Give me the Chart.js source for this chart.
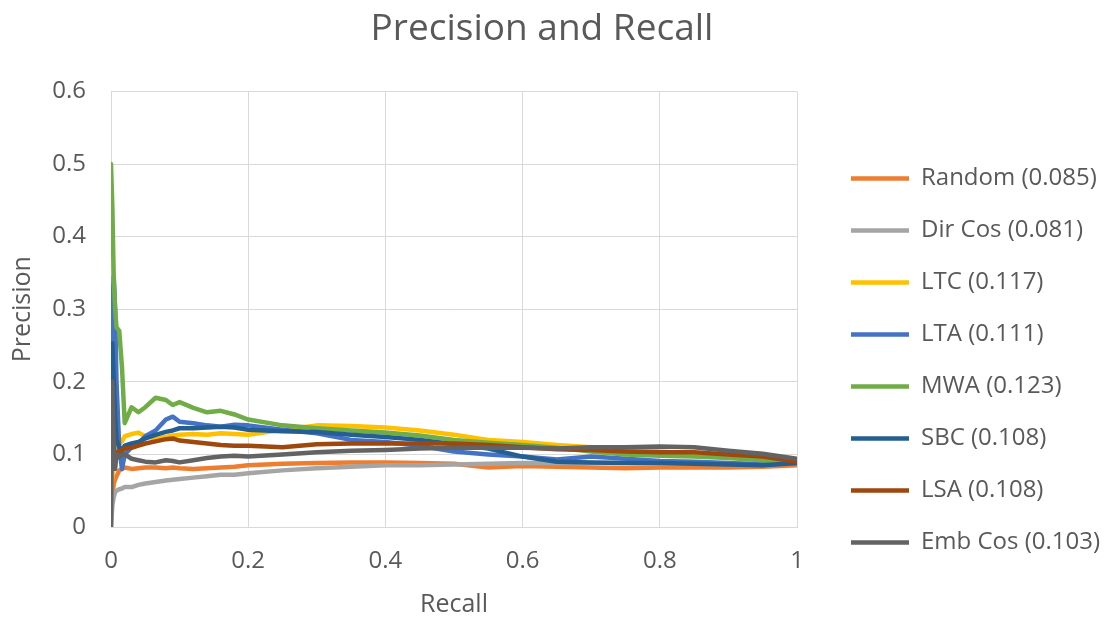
<!DOCTYPE html>
<html>
<head>
<meta charset="utf-8">
<title>Precision and Recall</title>
<script src="https://cdn.jsdelivr.net/npm/chart.js@4.4.1/dist/chart.umd.min.js"></script>
<style>
  html, body { margin: 0; padding: 0; background: #fff; font-family: "Open Sans", sans-serif; }
  #wrap { width: 1105px; height: 617px; }
</style>
</head>
<body>
<div id="wrap"><canvas id="prChart" width="1105" height="617"></canvas></div>
<script>
// recall points shared by every curve (denser near 0 where the spikes are)
const recall = [0, 0.002, 0.004, 0.006, 0.008, 0.012, 0.016, 0.02, 0.03, 0.04,
  0.05, 0.065, 0.08, 0.09, 0.1, 0.12, 0.14, 0.16, 0.18, 0.2,
  0.25, 0.3, 0.35, 0.4, 0.45, 0.5, 0.55, 0.6, 0.65, 0.7,
  0.75, 0.8, 0.85, 0.9, 0.95, 1.0];

// precision
const random = [0.05, 0.04, 0.06, 0.065, 0.07, 0.078, 0.08, 0.082, 0.08, 0.081,
  0.082, 0.082, 0.081, 0.082, 0.081, 0.08, 0.081, 0.082, 0.083, 0.085,
  0.087, 0.088, 0.089, 0.089, 0.088, 0.087, 0.082, 0.084, 0.083, 0.082,
  0.081, 0.082, 0.082, 0.082, 0.083, 0.085];
const dirCos = [0, 0.03, 0.041, 0.048, 0.05, 0.052, 0.053, 0.055, 0.055, 0.058,
  0.06, 0.062, 0.064, 0.065, 0.066, 0.068, 0.07, 0.072, 0.072, 0.074,
  0.078, 0.081, 0.083, 0.085, 0.085, 0.086, 0.087, 0.088, 0.088, 0.088,
  0.088, 0.088, 0.087, 0.087, 0.087, 0.087];
const ltc = [0.05, 0.07, 0.1, 0.09, 0.11, 0.115, 0.118, 0.125, 0.128, 0.13,
  0.125, 0.122, 0.124, 0.126, 0.127, 0.128, 0.127, 0.129, 0.128, 0.127,
  0.134, 0.14, 0.139, 0.137, 0.133, 0.127, 0.12, 0.117, 0.113, 0.11,
  0.107, 0.104, 0.102, 0.097, 0.093, 0.088];
const lta = [0.25, 0.3, 0.345, 0.3, 0.2, 0.11, 0.08, 0.1, 0.11, 0.115,
  0.125, 0.133, 0.148, 0.152, 0.145, 0.143, 0.14, 0.138, 0.141, 0.14,
  0.134, 0.129, 0.12, 0.117, 0.112, 0.104, 0.1, 0.097, 0.093, 0.097,
  0.094, 0.091, 0.09, 0.088, 0.086, 0.088];
const mwa = [0.5, 0.44, 0.34, 0.3, 0.275, 0.27, 0.22, 0.143, 0.165, 0.158,
  0.165, 0.178, 0.175, 0.168, 0.172, 0.164, 0.158, 0.16, 0.155, 0.148,
  0.14, 0.136, 0.133, 0.13, 0.126, 0.12, 0.116, 0.113, 0.109, 0.104,
  0.1, 0.098, 0.097, 0.095, 0.092, 0.088];
const sbc = [0.2, 0.253, 0.2, 0.15, 0.12, 0.11, 0.105, 0.112, 0.115, 0.117,
  0.122, 0.127, 0.131, 0.133, 0.136, 0.136, 0.137, 0.138, 0.137, 0.134,
  0.132, 0.131, 0.127, 0.124, 0.12, 0.114, 0.108, 0.097, 0.09, 0.089,
  0.088, 0.088, 0.087, 0.086, 0.085, 0.088];
const lsa = [0.09, 0.1, 0.095, 0.1, 0.103, 0.104, 0.106, 0.108, 0.109, 0.112,
  0.115, 0.118, 0.121, 0.122, 0.119, 0.117, 0.115, 0.113, 0.112, 0.112,
  0.11, 0.114, 0.115, 0.115, 0.115, 0.115, 0.113, 0.11, 0.107, 0.106,
  0.104, 0.103, 0.103, 0.1, 0.097, 0.09];
const embCos = [0, 0.2, 0.12, 0.08, 0.1, 0.096, 0.1, 0.1, 0.094, 0.092,
  0.09, 0.089, 0.092, 0.091, 0.089, 0.092, 0.095, 0.097, 0.098, 0.097,
  0.1, 0.103, 0.105, 0.106, 0.108, 0.109, 0.109, 0.109, 0.108, 0.11,
  0.11, 0.111, 0.11, 0.105, 0.101, 0.094];

const seriesNames = ['Random (0.085)', 'Dir Cos (0.081)', 'LTC (0.117)', 'LTA (0.111)',
  'MWA (0.123)', 'SBC (0.108)', 'LSA (0.108)', 'Emb Cos (0.103)'];
const seriesData = [random, dirCos, ltc, lta, mwa, sbc, lsa, embCos];
const seriesColors = ['#ED7D31', '#A5A5A5', '#FFC000', '#4472C4',
  '#70AD47', '#255E91', '#9E480E', '#636363'];

const textColor = '#595959';
const gridColor = '#D9D9D9';
const fontFamily = '"Open Sans", "Noto Sans", sans-serif';

const datasets = seriesData.map((vals, i) => ({
  label: seriesNames[i],
  data: vals.map((v, j) => ({ x: recall[j], y: v })),
  borderColor: seriesColors[i],
  backgroundColor: seriesColors[i],
  borderWidth: 4.5,
  borderCapStyle: 'round',
  borderJoinStyle: 'round',
  pointRadius: 0,
  tension: 0,
  fill: false,
  order: seriesData.length - i   // later series painted on top, like Excel
}));

// put the legend block where the reference has it (right of the plot, a bit low)
const legendNudge = {
  id: 'legendNudge',
  afterLayout(chart) {
    const lg = chart.legend;
    if (!lg) return;
    const w = lg.width;
    lg.left = chart.chartArea.right + 26;
    lg.right = lg.left + w;
    lg.top += 52;
    lg.bottom += 52;
  }
};

function drawChart() {
  const ctx = document.getElementById('prChart').getContext('2d');
  new Chart(ctx, {
    type: 'line',
    data: { datasets: datasets },
    plugins: [legendNudge],
    options: {
      responsive: false,
      animation: false,
      layout: { padding: { left: 0, right: 21, top: 0, bottom: 0 } },
      plugins: {
        title: {
          display: true,
          text: 'Precision and Recall',
          color: textColor,
          font: { family: fontFamily, size: 37, weight: 'normal' },
          padding: { top: 7, bottom: 40 }
        },
        legend: {
          position: 'right',
          maxWidth: 287,
          labels: {
            usePointStyle: true,
            pointStyle: 'line',
            pointStyleWidth: 58,
            padding: 28,
            color: textColor,
            font: { family: fontFamily, size: 24 },
            sort: (a, b) => a.datasetIndex - b.datasetIndex
          }
        },
        tooltip: { enabled: false }
      },
      scales: {
        x: {
          type: 'linear',
          min: 0,
          max: 1,
          afterFit: (scale) => { scale.height = 90; },
          ticks: {
            stepSize: 0.2,
            padding: 20,
            color: textColor,
            font: { family: fontFamily, size: 24 },
            callback: (v) => String(Number(v.toFixed(1)))
          },
          grid: { color: gridColor, lineWidth: 1, drawTicks: false },
          border: { color: gridColor },
          title: {
            display: true,
            text: 'Recall',
            color: textColor,
            font: { family: fontFamily, size: 25, lineHeight: 1 },
            padding: { top: 11, bottom: 0 }
          }
        },
        y: {
          min: 0,
          max: 0.6,
          afterFit: (scale) => { scale.width = 111; },
          ticks: {
            stepSize: 0.1,
            padding: 25,
            color: textColor,
            font: { family: fontFamily, size: 24 },
            callback: (v) => String(Number(v.toFixed(1)))
          },
          grid: { color: gridColor, lineWidth: 1, drawTicks: false },
          border: { color: gridColor },
          title: {
            display: true,
            text: 'Precision',
            color: textColor,
            font: { family: fontFamily, size: 25 },
            padding: { top: 8, bottom: 14 }
          }
        }
      }
    }
  });
}

Promise.all([
  document.fonts.load('24px "Open Sans"'),
  document.fonts.load('37px "Open Sans"')
]).then(drawChart, drawChart);
</script>
</body>
</html>
